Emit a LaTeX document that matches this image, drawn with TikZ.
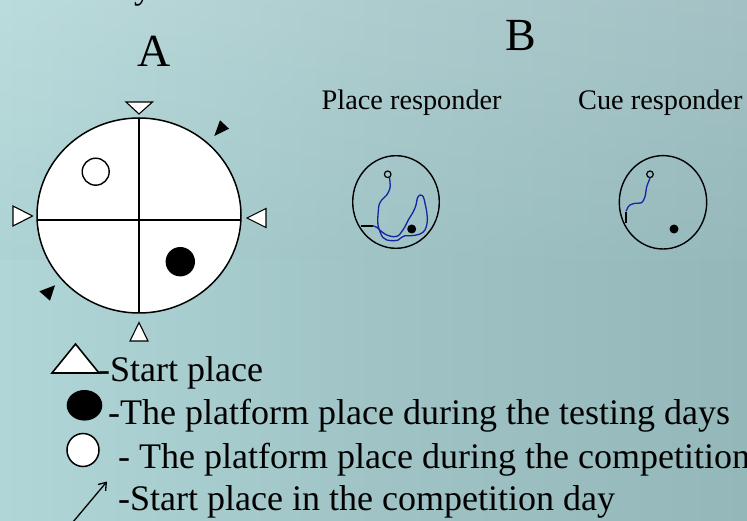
\documentclass[tikz,border=0pt]{standalone}
\usepackage{fontspec}
\setmainfont{Liberation Serif}
\usetikzlibrary{arrows.meta}
\definecolor{bgleft}{RGB}{176,214,215}
\definecolor{bgmid}{RGB}{160,196,198}
\definecolor{bgright}{RGB}{148,183,186}
\definecolor{pathblue}{RGB}{25,35,160}
\tikzset{
  wall/.style={draw=black, line width=1.5pt},
  tri/.style={draw=black, fill=white, line width=1.1pt, line join=miter},
  blacktri/.style={fill=black},
  swim/.style={draw=pathblue, line width=1.3pt, line join=round, line cap=round},
  legend/.style={anchor=base west, inner sep=0pt, font=\fontsize{36}{40}\selectfont},
  small/.style={anchor=base west, inner sep=0pt, font=\fontsize{28.3}{30}\selectfont},
  big/.style={anchor=base, inner sep=0pt, font=\fontsize{46}{50}\selectfont}
}
\begin{document}
\begin{tikzpicture}[x=1pt,y=-1pt]
\useasboundingbox (0,0) rectangle (747,521);
\shade[left color=bgleft, right color=bgright, middle color=bgmid] (0,0) rectangle (747,521);
\shade[top color=white, bottom color=bgmid, opacity=0.15] (0,0) rectangle (747,260);

% cropped glyph at the top
\node[legend] (ytop) at (134,-1) {y};

% titles
\node[big] (labA) at (154.5,66.7) {A};
\node[big] (labB) at (521,50.7) {B};
\node[small] (labPlace) at (321.5,110) {Place responder};
\node[small] (labCue) at (578,110) {Cue responder};

% pool A
\draw[wall, fill=white] (139,215.5) ellipse [x radius=102, y radius=97.5];
\draw[line width=1.5pt] (139,118) -- (139,313);
\draw[line width=1.5pt] (37,220) -- (241,220);
\draw[line width=1.4pt, fill=white] (95.7,171.7) circle [radius=13.5];
\fill[black] (180.3,261.7) circle [radius=14.7];

% start triangles
\draw[tri] (126,102) -- (152.5,102) -- (139,114) -- cycle;
\draw[tri] (13,206) -- (32.5,216) -- (13,226) -- cycle;
\draw[tri] (266,208.5) -- (247,218) -- (266,227.5) -- cycle;
\draw[tri] (130,341) -- (139,322.5) -- (148,341) -- cycle;
\fill[blacktri] (214.3,136) -- (220,120.3) -- (229,128.7) -- cycle;
\fill[blacktri] (39.3,291.3) -- (55,285.3) -- (50,300.7) -- cycle;

% place responder
\draw[line width=1.4pt] (396,202) ellipse [x radius=43.3, y radius=46.3];
\draw[line width=1.2pt] (387.7,174.3) circle [radius=3.3];
\fill (411.7,229) circle [radius=4.5];
\draw[line width=1.3pt] (360.7,226) -- (373.3,226);
\draw[swim] plot[smooth, tension=0.55] coordinates {
 (389.5,177.6) (390,182) (390,188.3) (386.7,195) (381.7,200) (379,205)
 (378.3,211.7) (377.7,220) (378.3,226.7) (380,231.7) (382.7,237.3)
 (386.7,240) (393.3,240.7) (398.3,240) (401.7,237.3) (405,235.7)
 (411.7,235.7) (420,234) (425,230) (427.3,221.7) (426.7,211.7)
 (425,203.3) (423.3,196.7) (420,195) (417.3,198.3) (416,205)
 (413.3,211.7) (408.3,220) (405,226.7) (401.7,231.7) (398.3,235.7)
 (393.3,236.7) (386.7,235) (381.7,231.7) (376.7,227.3) (373.3,226)};

% cue responder
\draw[line width=1.4pt] (663,202.3) ellipse [x radius=43.7, y radius=46.7];
\draw[line width=1.2pt] (650,174.3) circle [radius=3.3];
\fill (674,229) circle [radius=4.5];
\draw[line width=1.3pt] (626,223.3) -- (626,211.7);
\draw[swim] plot[smooth, tension=0.5] coordinates {
 (626.3,211) (628,207) (630,205) (635,203.3) (641.7,202.7)
 (645,196.7) (646.7,186.7) (649.3,180) (650,177.7)};

% legend
\draw[tri, line width=1.6pt] (52,373) -- (75.5,344) -- (99,373) -- cycle;
\node[legend] (lg1) at (98,381.7) {-Start place};
\fill (84.5,405.3) ellipse [x radius=17.8, y radius=15.3];
\node[legend] (lg2) at (108,424) {-The platform place during the testing days};
\draw[line width=1.5pt, fill=white] (83,450) ellipse [x radius=16, y radius=16.5];
\node[legend] (lg3) at (118,468) {- The platform place during the competition};
\coordinate (arrTail) at (73,522);
\coordinate (arrHead) at (107,481.5);
\draw[line width=1.3pt, -{Straight Barb[length=7pt,width=10pt]}] (arrTail) -- (arrHead);
\node[legend] (lg4) at (118,510) {-Start place in the competition day};
\end{tikzpicture}
\end{document}
